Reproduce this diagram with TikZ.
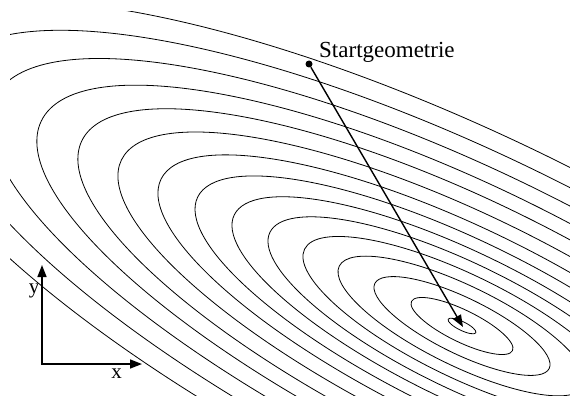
\documentclass[tikz,border=0pt]{standalone}
\usepackage{fontspec}
\setmainfont{Liberation Serif}
\usetikzlibrary{arrows.meta}
\begin{document}
\begin{tikzpicture}[x=1pt,y=-1pt,
  contour/.style={line width=0.8pt},
  arr/.style={line width=1.4pt,-{Triangle[length=12pt,width=9pt]}},
  axis/.style={line width=1.6pt,line join=miter,{Triangle[length=12pt,width=9pt]}-{Triangle[length=12pt,width=9pt]}},
  lbl/.style={font=\fontsize{23}{23}\selectfont,inner sep=0pt},
  small/.style={font=\fontsize{21}{21}\selectfont,inner sep=0pt}]
\useasboundingbox (0,0) rectangle (570,396);
\begin{scope}
  \clip (10,12) rectangle (570,396);
  \foreach \A/\B in {15.4/4.4, 56.2/16, 97/28, 136.6/40, 175.2/51.2, 213.7/62.4,
                     253.4/73.5, 294.1/85.4, 334.9/97.8, 378.9/111.5, 422.9/126,
                     468/140.3, 520/155.7, 575/172, 632/190}{
    \draw[contour,shift={(462,326)},rotate=-26] (0,0) ellipse [x radius=\A pt, y radius=\B pt];
  }
\end{scope}
\node[circle,fill,inner sep=0pt,minimum size=7pt] (start) at (309,64) {};
\coordinate (min) at (463,327);
\draw[arr] (start) -- (min);
\node[lbl,anchor=base west] (title) at (319,57) {Startgeometrie};
\coordinate (o) at (42,364);
\coordinate (ytip) at (42,265);
\coordinate (xtip) at (142,364);
\draw[axis] (ytip) -- (o) -- (xtip);
\node[small,anchor=base] (ylab) at (34,293) {y};
\node[small,anchor=base] (xlab) at (116.5,378) {x};
\end{tikzpicture}
\end{document}
